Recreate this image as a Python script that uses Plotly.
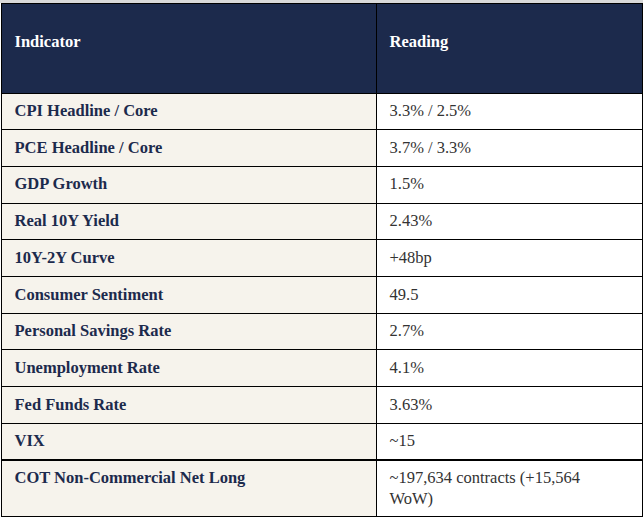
import plotly.graph_objects as go

header_labels = ["Indicator", "Reading"]
indicators = [
    "CPI Headline / Core",
    "PCE Headline / Core",
    "GDP Growth",
    "Real 10Y Yield",
    "10Y-2Y Curve",
    "Consumer Sentiment",
    "Personal Savings Rate",
    "Unemployment Rate",
    "Fed Funds Rate",
    "VIX",
    "COT Non-Commercial Net Long",
]
readings = [
    "3.3% / 2.5%",
    "3.7% / 3.3%",
    "1.5%",
    "2.43%",
    "+48bp",
    "49.5",
    "2.7%",
    "4.1%",
    "3.63%",
    "~15",
    "~197,634 contracts (+15,564<br>WoW)",
]

NAVY = "#1c2a4c"
BEIGE = "#f6f3ec"
PAD = "\u2005\u200a"

fig = go.Figure(go.Table(
    columnwidth=[375, 266],
    header=dict(
        values=["\u00a0<br>" + PAD + "<b>" + h + "</b>" for h in header_labels],
        fill_color=NAVY,
        line=dict(color="black", width=1),
        font=dict(family="Liberation Serif", size=16.5, color="white"),
        align="left",
        height=90,
    ),
    cells=dict(
        values=[[PAD + "<b>" + s + "</b>" for s in indicators],
                ["<b></b>" + PAD + s.replace("<br>", "<br>" + PAD) for s in readings]],
        fill_color=[[BEIGE] * len(indicators), ["white"] * len(readings)],
        line=dict(color="black", width=1),
        font=dict(family="Liberation Serif", size=16.5, color=[NAVY, "#333333"]),
        align="left",
        height=36.7,
    ),
))

fig.update_layout(
    width=643, height=520,
    margin=dict(l=1, r=1, t=3, b=0),
    paper_bgcolor="white",
    shapes=[dict(type="rect", xref="paper", yref="paper", x0=-0.01, x1=1.01,
                 y0=1.0, y1=1.0 + 3 / 517, fillcolor="#d9d9d9", line=dict(width=0),
                 layer="below")],
)

fig.write_html("out.html", config={"displayModeBar": False},
               post_script="document.body.style.margin='0';")
